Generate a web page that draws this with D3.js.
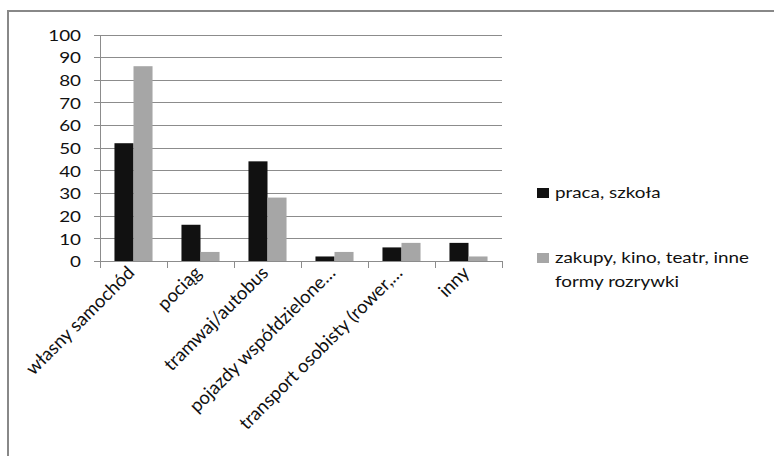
<!DOCTYPE html>
<html>
<head>
<meta charset="utf-8">
<script src="https://cdn.jsdelivr.net/npm/d3@7"></script>
<style>
  html, body { margin: 0; padding: 0; background: #fff; }
  svg { display: block; }
  text { font-family: Lato, "Open Sans", sans-serif; fill: #111; }
</style>
</head>
<body>
<svg id="chart" width="774" height="456"></svg>
<script>
// Sposób dojazdu – dwie grupy celów podróży
const categories = [
  "własny samochód",
  "pociąg",
  "tramwaj/autobus",
  "pojazdy współdzielone…",
  "transport osobisty (rower,…",
  "inny"
];
const seriesNames = ["praca, szkoła", "zakupy, kino, teatr, inne formy rozrywki"];
const workSchool = [52, 16, 44, 2, 6, 8];
const leisure = [86, 4, 28, 4, 8, 2];
const yTicks = [0, 10, 20, 30, 40, 50, 60, 70, 80, 90, 100];
const colors = ["#111111", "#a6a6a6"];

const svg = d3.select("#chart");
const textStretch = 1.3;   // poziome rozciągnięcie napisów poziomych
const flatSize = 14.5;
const catSize = 18.5;

// ramka wykresu
svg.append("line").attr("x1", 7).attr("x2", 774).attr("y1", 11).attr("y2", 11)
  .attr("stroke", "#888").attr("stroke-width", 2);
svg.append("line").attr("x1", 8).attr("x2", 8).attr("y1", 10).attr("y2", 456)
  .attr("stroke", "#888").attr("stroke-width", 2);

const plot = { left: 100, right: 502, top: 34.5, bottom: 261 };

const x = d3.scaleBand().domain(categories).range([plot.left, plot.right]);
const xInner = d3.scaleBand().domain([0, 1])
  .range([0, x.bandwidth()]).paddingOuter(0.76);
const y = d3.scaleLinear().domain([0, 100]).range([plot.bottom, plot.top]);

// linie siatki
const yAxis = d3.axisLeft(y).tickValues(yTicks).tickSize(plot.right - plot.left + 6)
  .tickFormat("");
const gy = svg.append("g").attr("transform", `translate(${plot.right},0)`).call(yAxis);
gy.select(".domain").remove();
gy.selectAll(".tick line").attr("stroke", "#8c8c8c").attr("stroke-width", 1)
  .attr("shape-rendering", "crispEdges");

// pionowa oś Y
svg.append("line").attr("x1", plot.left + 0.5).attr("x2", plot.left + 0.5)
  .attr("y1", y(100)).attr("y2", plot.bottom).attr("stroke", "#8c8c8c")
  .attr("shape-rendering", "crispEdges");

// etykiety osi Y
svg.append("g").selectAll("text").data(yTicks).join("text")
  .attr("text-anchor", "end")
  .attr("font-size", flatSize)
  .attr("dy", "0.36em")
  .attr("transform", d => `translate(81,${y(d) + 1}) scale(${textStretch},1)`)
  .text(d => d);

// słupki
const data = categories.map((c, i) => ({ c, v: [workSchool[i], leisure[i]] }));
const groups = svg.append("g").selectAll("g").data(data).join("g")
  .attr("transform", d => `translate(${x(d.c)},0)`);
groups.selectAll("rect").data(d => d.v.map((v, s) => ({ v, s }))).join("rect")
  .attr("x", d => xInner(d.s))
  .attr("width", xInner.bandwidth())
  .attr("y", d => y(d.v))
  .attr("height", d => y(0) - y(d.v))
  .attr("fill", d => colors[d.s]);

// oś X z kreskami na granicach kategorii
const gx = svg.append("g");
gx.append("line").attr("x1", plot.left).attr("x2", plot.right)
  .attr("y1", plot.bottom + 0.5).attr("y2", plot.bottom + 0.5)
  .attr("stroke", "#8c8c8c");
const bounds = categories.map(c => x(c)).concat([x(categories[categories.length - 1]) + x.bandwidth()]);
gx.selectAll("line.tk").data(bounds).join("line").attr("class", "tk")
  .attr("x1", d => Math.round(d) + 0.5).attr("x2", d => Math.round(d) + 0.5)
  .attr("y1", plot.bottom).attr("y2", plot.bottom + 7)
  .attr("stroke", "#8c8c8c");

gx.selectAll("text.cat").data(categories).join("text").attr("class", "cat")
  .attr("text-anchor", "end")
  .attr("font-size", catSize)
  .attr("transform", d => `translate(${x(d) + x.bandwidth() / 2 + 2},${plot.bottom + 13}) rotate(-45)`)
  .text(d => d);

// legenda
const legend = svg.append("g");
const legendItems = [
  { lines: ["praca, szkoła"], y: 188 },
  { lines: ["zakupy, kino, teatr, inne", "formy rozrywki"], y: 253 }
];
legendItems.forEach((it, i) => {
  legend.append("rect").attr("x", 537).attr("y", it.y).attr("width", 12).attr("height", 10)
    .attr("fill", colors[i]);
  it.lines.forEach((ln, j) => {
    legend.append("text").attr("font-size", flatSize)
      .attr("transform", `translate(555,${it.y + 9.5 + j * 24}) scale(${textStretch},1)`)
      .text(ln);
  });
});
</script>
</body>
</html>
